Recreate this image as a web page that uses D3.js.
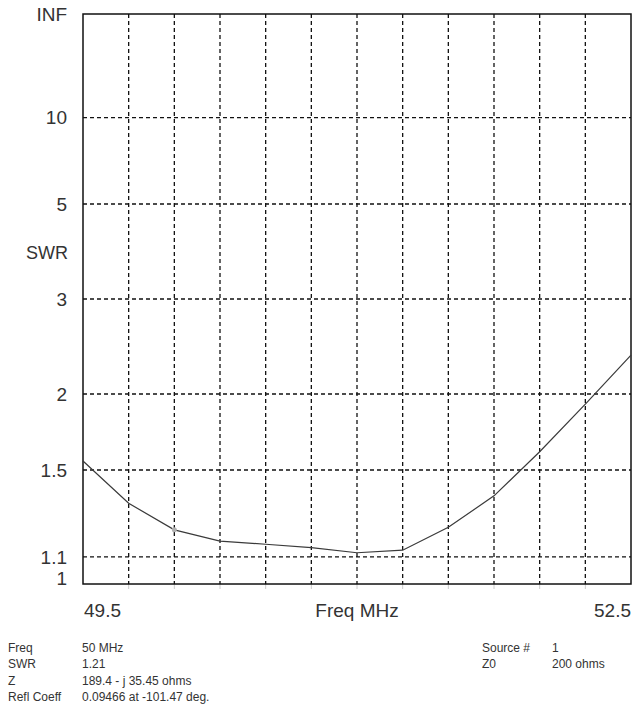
<!DOCTYPE html>
<html>
<head>
<meta charset="utf-8">
<script src="https://cdn.jsdelivr.net/npm/d3@7"></script>
<style>
  body { margin: 0; background: #fff; }
  text { font-family: "Liberation Sans", Arial, sans-serif; fill: #333; }
</style>
</head>
<body>
<div id="chart"></div>
<script>
// Frequency sweep (MHz) and SWR
var freqs = [49.5, 49.75, 50.0, 50.25, 50.5, 50.75, 51.0, 51.25, 51.5, 51.75, 52.0, 52.25, 52.5];
var swrValues = [1.55, 1.33, 1.21, 1.163, 1.15, 1.136, 1.116, 1.126, 1.221, 1.366, 1.604, 1.922, 2.341];

// Y axis grid values and labels
var swrGrid = [10, 5, 3, 2, 1.5, 1.1];
var swrTickLabels = ["INF", "10", "5", "3", "2", "1.5", "1.1", "1"];
var swrTickValues = [Infinity, 10, 5, 3, 2, 1.5, 1.1, 1];

// Marker
var markerFreq = 50.0;
var markerSwr = 1.21;

// Readout lines under the chart
var infoLeftLabels = ["Freq", "SWR", "Z", "Refl Coeff"];
var infoLeftValues = ["50 MHz", "1.21", "189.4 - j 35.45 ohms", "0.09466 at -101.47 deg."];
var infoRightLabels = ["Source #", "Z0"];
var infoRightValues = ["1", "200 ohms"];

var svgWidth = 632, svgHeight = 717;
var margin = {top: 14, right: 1, bottom: 133, left: 83};
var width = svgWidth - margin.left - margin.right;
var height = svgHeight - margin.top - margin.bottom;

var svg = d3.select("#chart").append("svg")
  .attr("width", svgWidth)
  .attr("height", svgHeight);

var chartGroup = svg.append("g")
  .attr("transform", `translate(${margin.left}, ${margin.top})`);

// SWR is plotted on a reflection coefficient scale
function rho(s) { return s === Infinity ? 1 : (s - 1) / (s + 1); }

var xScale = d3.scaleLinear().domain([49.5, 52.5]).range([0, width]);
var yScale = d3.scaleLinear().domain([0, 1]).range([height, 0]);

// vertical grid every 0.25 MHz
var xGrid = d3.range(1, 12).map(i => 49.5 + i * 0.25);
chartGroup.selectAll("line.vgrid").data(xGrid).enter()
  .append("line")
  .attr("class", "vgrid")
  .attr("x1", d => xScale(d)).attr("x2", d => xScale(d))
  .attr("y1", 0).attr("y2", height)
  .attr("stroke", "#111")
  .attr("stroke-width", 1.3)
  .attr("stroke-dasharray", "4,3");

// small ticks below the axis
chartGroup.selectAll("line.xtick").data(xGrid).enter()
  .append("line")
  .attr("x1", d => xScale(d)).attr("x2", d => xScale(d))
  .attr("y1", height).attr("y2", height + 5)
  .attr("stroke", "#ccc");

chartGroup.selectAll("line.hgrid").data(swrGrid).enter()
  .append("line")
  .attr("class", "hgrid")
  .attr("x1", 0).attr("x2", width)
  .attr("y1", d => yScale(rho(d))).attr("y2", d => yScale(rho(d)))
  .attr("stroke", "#111")
  .attr("stroke-width", 1.3)
  .attr("stroke-dasharray", "4,3");

// frame
chartGroup.append("rect")
  .attr("width", width).attr("height", height)
  .attr("fill", "none")
  .attr("stroke", "#111")
  .attr("stroke-width", 1.5);

// SWR curve
var line = d3.line()
  .x((d, i) => xScale(freqs[i]))
  .y(d => yScale(rho(d)));

chartGroup.append("path")
  .datum(swrValues)
  .attr("d", line)
  .attr("fill", "none")
  .attr("stroke", "#3a3a3a")
  .attr("stroke-width", 1.2);

chartGroup.append("circle")
  .attr("cx", xScale(markerFreq))
  .attr("cy", yScale(rho(markerSwr)))
  .attr("r", 2.5)
  .attr("fill", "#b0b0b0");

// Y labels
chartGroup.selectAll("text.ylab").data(swrTickValues).enter()
  .append("text")
  .attr("class", "ylab")
  .attr("x", -16)
  .attr("y", d => d === 1 ? yScale(0) - 6 : yScale(rho(d)))
  .attr("dy", "0.35em")
  .attr("text-anchor", "end")
  .style("font-size", "19px")
  .text((d, i) => swrTickLabels[i]);

chartGroup.append("text")
  .attr("x", -15)
  .attr("y", 239)
  .attr("dy", "0.35em")
  .attr("text-anchor", "end")
  .style("font-size", "18px")
  .text("SWR");

// X labels
chartGroup.append("text")
  .attr("x", 1).attr("y", height + 33)
  .style("font-size", "19px")
  .text("49.5");
chartGroup.append("text")
  .attr("x", width).attr("y", height + 33)
  .attr("text-anchor", "end")
  .style("font-size", "19px")
  .text("52.5");
chartGroup.append("text")
  .attr("x", width / 2).attr("y", height + 33)
  .attr("text-anchor", "middle")
  .style("font-size", "19px")
  .text("Freq MHz");

// Readout
var info = svg.append("g").style("font-size", "12px");
infoLeftLabels.forEach((lab, i) => {
  info.append("text").attr("x", 8).attr("y", 652 + i * 16.3).text(lab);
  info.append("text").attr("x", 82).attr("y", 652 + i * 16.3).text(infoLeftValues[i]);
});
infoRightLabels.forEach((lab, i) => {
  info.append("text").attr("x", 482).attr("y", 652 + i * 16.3).text(lab);
  info.append("text").attr("x", 552).attr("y", 652 + i * 16.3).text(infoRightValues[i]);
});
</script>
</body>
</html>
